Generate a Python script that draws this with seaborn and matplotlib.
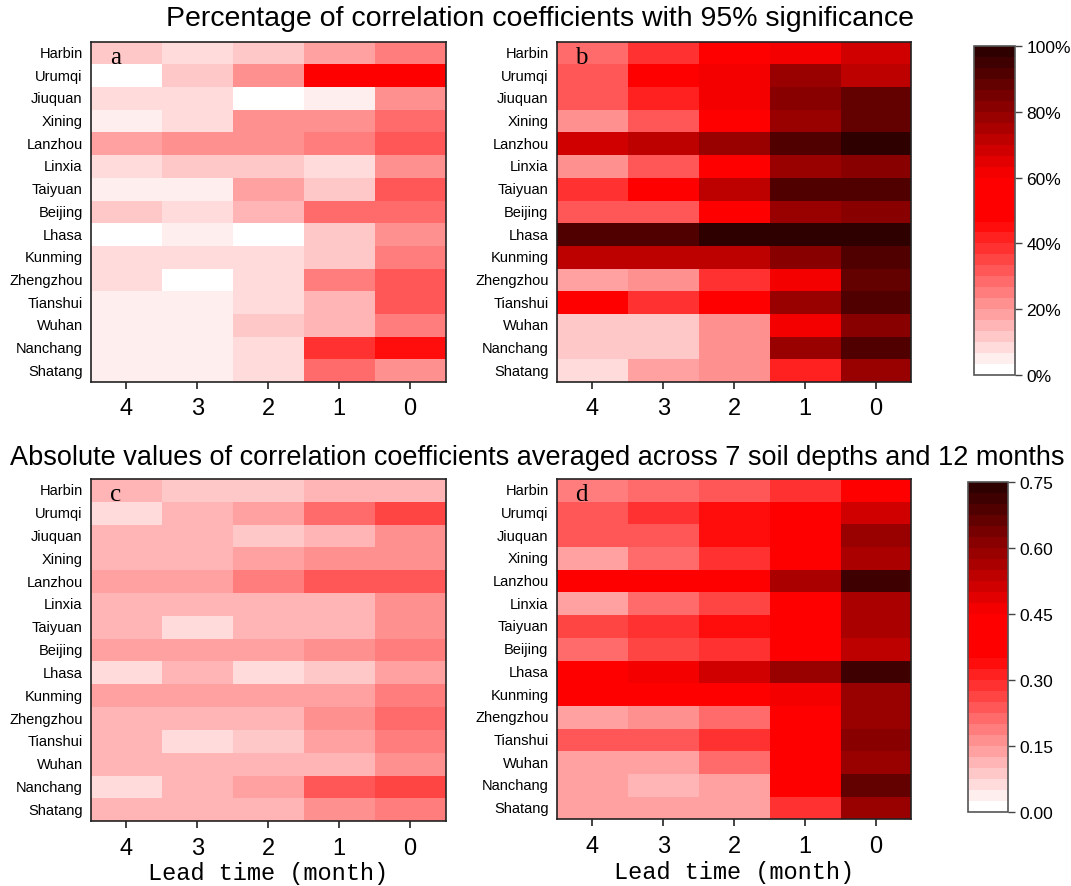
import numpy as np
import pandas as pd
import seaborn as sns
import matplotlib.pyplot as plt
from matplotlib.colors import LinearSegmentedColormap, ListedColormap

cities = ["Harbin", "Urumqi", "Jiuquan", "Xining", "Lanzhou", "Linxia", "Taiyuan",
          "Beijing", "Lhasa", "Kunming", "Zhengzhou", "Tianshui", "Wuhan",
          "Nanchang", "Shatang"]
leads = ["4", "3", "2", "1", "0"]

# percentage of significant correlation coefficients (%)
sig_a = [
    [12, 9, 13, 17, 25],
    [0, 13, 20, 48, 50],
    [7, 7, 0, 4, 21],
    [5, 7, 22, 22, 27],
    [18, 20, 21, 25, 33],
    [7, 11, 11, 7, 22],
    [5, 5, 19, 11, 31],
    [10, 7, 15, 27, 29],
    [0, 5, 0, 10, 20],
    [7, 7, 7, 10, 25],
    [8, 0, 7, 25, 33],
    [5, 5, 7, 14, 31],
    [5, 5, 10, 14, 25],
    [5, 5, 7, 38, 45],
    [5, 5, 7, 27, 23],
]
sig_b = [
    [27, 37, 52, 60, 67],
    [33, 52, 60, 77, 73],
    [33, 43, 60, 80, 87],
    [20, 30, 53, 77, 87],
    [67, 73, 77, 93, 97],
    [20, 30, 47, 77, 80],
    [37, 50, 70, 90, 90],
    [30, 33, 53, 77, 83],
    [90, 90, 97, 97, 97],
    [73, 73, 73, 80, 93],
    [17, 23, 37, 63, 87],
    [47, 37, 50, 77, 90],
    [13, 13, 23, 63, 80],
    [13, 13, 23, 77, 90],
    [7, 17, 23, 43, 77],
]
# mean absolute correlation coefficients
abs_c = [
    [0.12, 0.09, 0.09, 0.11, 0.11],
    [0.06, 0.12, 0.15, 0.20, 0.26],
    [0.12, 0.12, 0.09, 0.11, 0.17],
    [0.11, 0.10, 0.15, 0.17, 0.17],
    [0.13, 0.15, 0.18, 0.23, 0.23],
    [0.10, 0.12, 0.12, 0.12, 0.17],
    [0.10, 0.06, 0.12, 0.12, 0.17],
    [0.13, 0.13, 0.13, 0.17, 0.19],
    [0.07, 0.10, 0.06, 0.09, 0.15],
    [0.13, 0.13, 0.13, 0.15, 0.19],
    [0.10, 0.10, 0.10, 0.17, 0.22],
    [0.10, 0.07, 0.09, 0.14, 0.19],
    [0.10, 0.10, 0.12, 0.12, 0.17],
    [0.07, 0.10, 0.13, 0.23, 0.25],
    [0.10, 0.10, 0.10, 0.17, 0.19],
]
abs_d = [
    [0.19, 0.20, 0.23, 0.29, 0.40],
    [0.24, 0.28, 0.34, 0.38, 0.50],
    [0.24, 0.24, 0.34, 0.38, 0.60],
    [0.15, 0.20, 0.28, 0.38, 0.55],
    [0.38, 0.38, 0.38, 0.55, 0.72],
    [0.15, 0.20, 0.27, 0.38, 0.55],
    [0.25, 0.28, 0.34, 0.42, 0.57],
    [0.22, 0.25, 0.30, 0.38, 0.53],
    [0.44, 0.46, 0.52, 0.60, 0.72],
    [0.38, 0.38, 0.38, 0.46, 0.60],
    [0.15, 0.17, 0.20, 0.38, 0.60],
    [0.24, 0.24, 0.29, 0.38, 0.62],
    [0.15, 0.15, 0.20, 0.38, 0.60],
    [0.15, 0.12, 0.14, 0.38, 0.67],
    [0.13, 0.15, 0.15, 0.30, 0.58],
]

base = LinearSegmentedColormap.from_list(
    "wr", [(0, "#ffffff"), (0.47, "#ff0000"), (0.6, "#ff0000"), (1.0, "#2e0000")])
cmap = ListedColormap(base(np.linspace(0, 1, 30)))

sns.set_style("white")
plt.rcParams["font.family"] = ["Liberation Sans", "DejaVu Sans"]
plt.rcParams["text.color"] = "black"
plt.rcParams["axes.labelcolor"] = "black"
plt.rcParams["xtick.color"] = "black"
plt.rcParams["ytick.color"] = "black"

fig = plt.figure(figsize=(10.71, 8.87), dpi=100)
pos = {
    "a": [0.085, 0.568, 0.331, 0.384],
    "b": [0.520, 0.568, 0.331, 0.384],
    "c": [0.085, 0.073, 0.331, 0.386],
    "d": [0.520, 0.075, 0.331, 0.384],
}
cax_top = fig.add_axes([0.9094, 0.576, 0.038, 0.371])
cax_bot = fig.add_axes([0.904, 0.0834, 0.037, 0.372])

panels = [
    ("a", sig_a, 0, 100, None, None),
    ("b", sig_b, 0, 100, cax_top, [0, 20, 40, 60, 80, 100]),
    ("c", abs_c, 0, 0.75, None, None),
    ("d", abs_d, 0, 0.75, cax_bot, [0, 0.15, 0.30, 0.45, 0.60, 0.75]),
]

for key, vals, vmin, vmax, cax, ticks in panels:
    ax = fig.add_axes(pos[key])
    df = pd.DataFrame(vals, index=cities, columns=leads)
    if cax is not None:
        fmt = "%d%%" if vmax == 100 else "%.2f"
        kw = dict(cbar=True, cbar_ax=cax, cbar_kws={"ticks": ticks, "format": fmt})
    else:
        kw = dict(cbar=False)
    sns.heatmap(df, ax=ax, cmap=cmap, vmin=vmin, vmax=vmax, linewidths=0, **kw)
    for s in ax.spines.values():
        s.set_visible(True)
        s.set_color("#222222")
        s.set_linewidth(1.2)
    ax.tick_params(axis="y", length=0, labelsize=10.5, pad=6)
    ax.tick_params(axis="x", length=5, width=1.2, direction="out", labelsize=17,
                   pad=6, bottom=True, color="#222222")
    ax.set_yticklabels(cities, rotation=0)
    ax.set_xticklabels(leads, rotation=0)
    ax.set_ylabel("")
    if key in ("c", "d"):
        ax.set_xlabel("Lead time (month)", family=["Liberation Mono"], fontsize=17,
                      labelpad=2)
    else:
        ax.set_xlabel("")
    ax.text(0.068, 0.955, key, transform=ax.transAxes, ha="center", va="center",
            family=["Liberation Serif"], fontsize=18)
    if cax is not None:
        cax.tick_params(length=5, width=1, labelsize=12.5, color="#444444")
        cb = ax.collections[0].colorbar
        cb.outline.set_edgecolor("#555555")
        cb.outline.set_linewidth(1.2)

fig.text(0.504, 0.979, "Percentage of correlation coefficients with 95% significance",
         ha="center", va="center", fontsize=20.5)
fig.text(0.502, 0.4837,
         "Absolute values of correlation coefficients averaged across 7 soil depths and 12 months",
         ha="center", va="center", fontsize=19.5)

fig.savefig("out.png", dpi=100)
